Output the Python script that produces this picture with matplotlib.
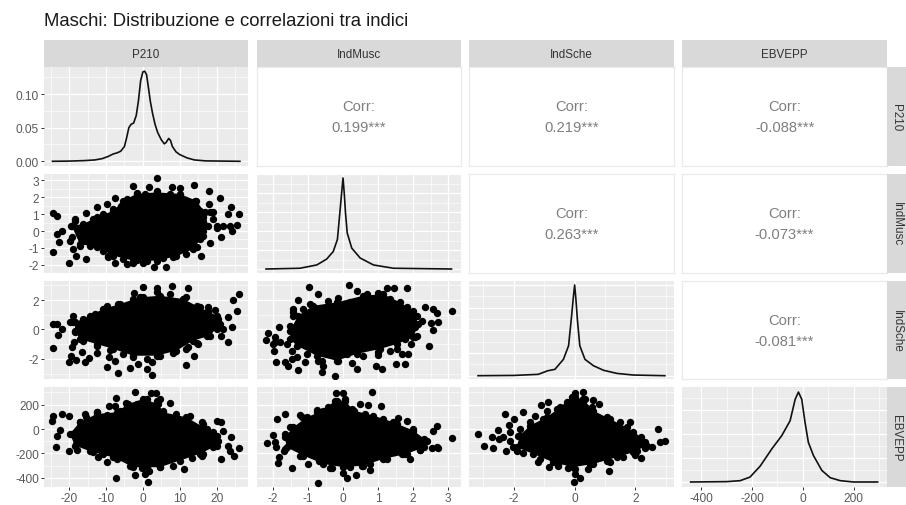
import matplotlib
matplotlib.use("Agg")
import matplotlib.pyplot as plt
from matplotlib.patches import Rectangle

plt.rcParams['font.family'] = ['Liberation Sans', 'DejaVu Sans']

W, H = 906, 506
TITLE = "Maschi: Distribuzione e correlazioni tra indici"
NAMES = ["P210", "IndMusc", "IndSche", "EBVEPP"]

# correlations (upper triangle)
corr_12 = "0.199***"
corr_13 = "0.219***"
corr_14 = "-0.088***"
corr_23 = "0.263***"
corr_24 = "-0.073***"
corr_34 = "-0.081***"

# densities
d1_x = [-24.5,-20,-16,-13,-11,-9.5,-8,-7,-6,-5,-4.4,-3.8,-3.2,-2.5,-1.8,-1.2,-0.6,0,0.5,1,1.5,2,2.6,3.3,4,5,5.8,6.3,7,7.5,8,9,10,12,14,17,26.3]
d1_y = [0,.0003,.001,.002,.004,.007,.011,.0125,.015,.022,.035,.05,.055,.057,.068,.09,.12,.133,.134,.129,.11,.09,.072,.055,.043,.032,.026,.028,.034,.031,.022,.014,.010,.005,.002,.0006,0]
d2_x = [-2.2,-1.23,-.75,-.47,-.28,-.16,-.09,-.04,0,.035,.07,.12,.25,.49,.87,1.44,3.1]
d2_y = [0,.02,.107,.26,.46,.78,1.49,2.0,2.4,2.0,1.49,.95,.55,.29,.107,.02,0]
d3_x = [-3.18,-2,-1.2,-.88,-.65,-.37,-.2,-.1,-.04,0,.04,.09,.17,.34,.62,.95,1.4,1.93,2.97]
d3_y = [0,.012,.06,.22,.28,.72,1.32,2.64,3.5,4,3.4,2.48,1.32,.72,.44,.24,.1,.03,0]
d4_x = [-442,-300,-247,-208,-168,-122,-83,-50,-30,-17,-4,9,22,42,75,108,148,200,295]
d4_y = [0,.00003,.00011,.00041,.00132,.00276,.00386,.0051,.00689,.0075,.00689,.00496,.00331,.00221,.00097,.00036,.00011,0,0]

# scatter: edge of the dense cloud, the lumps on that edge, and the separate points
c21_x = [-19.3,-16.2,-12.5,-8,-5.3,-1.7,3.7,10,14.5,16.8,17.7,16.4,13.6,9.1,3.7,-2.6,-8,-12.5,-17.1]
c21_y = [.31,.41,.81,1.2,1.8,2.2,2.29,2.2,1.8,1.1,.31,-.28,-1.07,-1.5,-1.76,-1.76,-1.46,-.97,-.77]
e21_x = [-4.4,-1.7,.55,3.7,7.3,10.5,14.1,15.5,18.2,16.4,19.1,20,16.4,15.5,14.6,11.8,8.2,5.5,1,-1.7,-5.3,-9.4,-10.7,-14.4,-17.1,-19.3,-19.6,-18.4,-16.2,-13.5,-10.7,-8,-5.8]
e21_y = [1.9,2.25,2.2,2.39,2.2,1.9,1.8,1.2,1.1,.81,.71,.31,.02,-.47,-.97,-1.36,-1.56,-1.62,-1.76,-1.7,-1.66,-1.5,-1.17,-.87,-.87,-.38,.31,.61,.31,.71,1.0,1.3,1.5]
p21_x = [3.7,-2.6,1.6,7.8,10,13.8,17.9,21,-7.6,-9.8,-12.5,-15.3,-24.3,-23.4,24,26.1,23.1,-18.4,-22,-23.4,-22.7,-24.3,-19.8,-18.9,-18.2,-15.4,-20,-7.6,-4.4,-2.6,.1,3,6.4,15.7,18.2,21.3,24.2,25.6,19.1,18,-9.4,20,21.8,23.6]
p21_y = [3.12,2.69,2.59,2.59,2.53,2.73,2.35,1.96,1.94,1.6,1.4,1.07,1.07,.91,1.4,1,1,.71,.02,-.18,-.67,-1.27,-.57,-1.07,-1.46,-1.66,-1.92,-1.9,-1.96,-1.92,-1.92,-2.16,-2.12,-1.46,-.71,-.34,-.02,.35,1.1,1.6,-1.56,.2,.27,.3]

c31_x = [-18.4,-14.4,-10.7,-6.2,-.8,4.6,10.9,15.4,20,20.9,18.2,13.6,9.1,3.7,-2.6,-8,-12.5,-17.1,-18.4]
c31_y = [.48,.94,1.39,1.73,2.18,2.29,2.07,1.5,.94,.37,-.42,-.76,-1.44,-1.78,-1.78,-1.32,-.99,-.65,-.08]
e31_x = [-18.9,-16.2,-13,-9.8,-6.7,-2.6,.1,3.7,7.3,11.8,14.6,17.7,20.4,20,17.3,15,11.8,8.2,4.6,1,-2.6,-5.3,-8.9,-12.5,-16.2,-18.4]
e31_y = [.48,.71,1.05,1.39,1.73,2.07,2.18,2.52,2.4,2.18,1.61,1.27,.71,.03,-.42,-.99,-1.32,-1.62,-1.78,-2,-1.89,-1.66,-1.39,-1.1,-.76,-.2]
p31_x = [.1,3.9,7.8,12.1,-2.3,26,24.5,25.4,-24.3,-23.4,-22,-22.9,-19.8,-18.9,-24.3,-18.7,-19.3,-19.6,-20,-18.2,-15.7,-14.5,-16.6,-12.4,-9.6,-9.2,-7.6,-6.7,-3.5,-1.3,1,2.5,2.6,11.6,13.8,12.3,14.6,23.1,21.3,24.2,21.8,23.1,19.5,17.7,-9.8]
p31_y = [2.86,2.79,2.97,2.81,2.45,2.4,2.02,1.23,.37,.37,.03,-.38,.48,.94,-1.28,-.87,-1.21,-1.78,-2.23,-2.07,-2.23,-1.93,-1.55,-1.62,-2.52,-1.89,-2.12,-2.93,-2.64,-2.34,-2.68,-2.23,-3.09,-2.43,-1.82,-1.21,-.92,-.83,-.42,.14,.03,.82,1.34,1.5,1.61]

c41_x = [-19.8,-17.1,-12.5,-7.1,-4,.1,4.2,5.5,11.8,17.3,20,20,15.4,10,4.6,-2.6,-8,-13.5,-18.4]
c41_y = [-40,55,123,137,205,246,205,137,96,0,-54,-136,-204,-259,-313,-313,-232,-191,-136]
e41_x = [-19.3,-17.1,-15.3,-12.5,-9.8,-6.2,-4.4,-1.7,1,3.7,5.5,9.1,12.7,16.4,19.1,20.4,19.1,16.4,13.2,8.2,4.6,1,-3.5,-7.1,-10.7,-14.4,-18]
e41_y = [-40,55,96,137,115,151,192,205,246,233,151,123,110,41,-27,-95,-150,-204,-240,-305,-313,-313,-305,-245,-204,-177,-122]
p41_x = [-2.2,2.1,3.5,-7.3,-4.6,7.3,-9.1,-7.6,4.6,-24.3,-22,-20,-24.5,-22.5,-23.2,-23.6,-20,-17.8,-12.1,-9.8,-7.3,-2,-.1,1.7,.5,1.3,11.1,15.9,21.1,20,21.3,21.8,24,23.1,23.6,24.8,26.1,15.9,-15.7,-12.5]
p41_y = [301,295,295,254,213,213,192,192,246,110,126,104,69,-5,-54,-147,-177,-171,-226,-272,-404,-376,-322,-341,-368,-436,-327,-223,-245,69,61,-19,-62,-136,-177,-218,-158,55,123,137]

c32_x = [-1.51,-1.28,-.85,-.18,.58,1.15,1.63,2.01,2.15,2.01,1.53,1.06,.39,-.18,-.75,-1.32,-1.51]
c32_y = [-.08,.94,1.61,1.84,2.29,2.4,1.84,1.27,.37,-.53,-.99,-1.32,-1.66,-2.12,-1.78,-1.1,-.65]
e32_x = [-1.51,-1.42,-1.13,-.94,-.42,.2,.68,1,1.34,1.82,2.1,2.06,2.1,1.77,1.53,1.01,.58,.1,-.13,-.61,-1.04,-1.47,-1.61,-1.94]
e32_y = [.26,.94,1.39,1.73,1.95,1.84,2.4,2.45,2.07,1.5,.94,.14,-.42,-.65,-1.32,-1.55,-1.78,-1.66,-2.16,-2.16,-1.66,-1.44,-.99,-.87]
p32_x = [-.96,.17,.41,1.25,1.47,1.84,-.71,-1.3,-.13,-1.42,-1.42,2.34,2.58,2.68,3.12,2.71,2.51,2.56,2.25,-1.83,-2.13,-2.21,-1.97,-1.91,-1.66,-1.58,-1.28,-.61,-.23,.25,.39,.94,1.1,1.5,1.77,1.87,1.68,2.47,2.06,1.94,1.01,1.34,-1.1,-.71,-.56,-1.32,-1.47,-1.99,-1.8,-1.94]
p32_y = [2.86,3.01,2.63,2.81,2.81,2.79,2.4,2,2.13,1.39,1.16,1.5,1.39,1.12,1.27,.48,.44,-.01,.6,.14,-.24,-.69,-1.48,-2.23,-2.23,-2.5,-2.73,-2.91,-3.13,-2.3,-2.68,-2.5,-2.68,-2.34,-2.34,-1.66,-1.66,-1.14,-.53,-.99,-1.73,-1.44,-2.23,-2.12,-2.45,-1.89,-2,-.99,-.87,-.53]

c42_x = [-1.66,-1.42,-1.04,-.56,-.23,.06,.3,.87,1.44,2.01,2.39,2.3,1.82,1.15,.58,.01,-.56,-1.13,-1.61]
c42_y = [-68,14,96,151,233,233,151,110,55,-13,-95,-150,-204,-245,-300,-313,-286,-218,-150]
e42_x = [-1.66,-1.51,-1.18,-.75,-.42,-.18,.06,.25,.63,1.15,1.53,2.01,2.3,2.68,2.2,1.77,1.25,.77,.2,-.32,-.7,-1.23,-1.66,-1.94]
e42_y = [-40,14,96,137,178,233,246,164,123,82,41,0,-81,-150,-171,-204,-245,-286,-313,-322,-259,-218,-163,-109]
p42_x = [-.2,.01,.84,1.08,.49,.72,-1.66,-1.9,-1.23,-.73,1.58,1.82,2.68,2.58,3.1,2.72,2.53,2.2,1.91,-2.01,-2.18,-1.91,-1.7,-1.82,-1.85,-1.47,-.99,-.37,.01,.12,.37,.53,.77,-.72,1.68]
p42_y = [295,295,301,186,205,200,123,82,118,156,88,69,28,-19,-73,-155,-155,-171,-245,-49,-114,-150,-182,-226,-281,-316,-286,-322,-363,-401,-374,-305,-335,-439,-204]

c43_x = [-1.8,-1.47,-.92,-.48,-.1,.28,.61,1.16,1.71,2.2,2.37,1.93,1.38,.61,-.05,-.7,-1.36,-1.91]
c43_y = [-54,28,96,178,260,246,151,82,14,-68,-136,-191,-232,-286,-313,-273,-204,-150]
e43_x = [-1.85,-1.47,-1.03,-.59,-.26,.01,.34,.56,1.05,1.49,1.93,2.31,2.04,1.6,1.05,.5,.01,-.54,-1.14,-1.69,-2.02,-2.35,-2.13,-1.8]
e43_y = [-54,55,82,164,219,260,246,178,96,55,-27,-109,-177,-232,-259,-286,-327,-294,-245,-196,-150,-68,-27,0]
p43_x = [.01,.26,.59,.8,-.87,-1.11,-2.29,-1.69,-1.99,-1.3,-.9,1.82,-3.17,-2.53,-2.16,-2.73,-2.48,-2.13,-2.98,-2.68,-2.27,-1.91,-1.22,-.85,-.54,-.21,.45,1.13,.01,.17,-.01,2.18,1.98,2.73,2.81,2.97,2.53,2.31,1.16]
p43_y = [295,301,241,205,219,197,123,137,82,110,151,55,-40,-5,36,-68,-81,-95,-141,-155,-177,-177,-267,-313,-300,-322,-327,-341,-368,-401,-436,-240,-212,-2,-103,-98,-150,-158,-267]

# tick values and limits
col_ticks = [[-20,-10,0,10,20], [-2,-1,0,1,2,3], [-2,0,2], [-400,-200,0,200]]
col_minor = [[-25,-15,-5,5,15,25], [-1.5,-.5,.5,1.5,2.5,-2.5], [-3,-1,1,3], [-300,-100,100,300]]
col_lims = [(-26.8,28.5), (-2.457,3.37), (-3.477,3.27), (-476,332)]
row_ticks = [[0,.05,.10], [-2,-1,0,1,2,3], [-2,0,2], [-400,-200,0,200]]
row_labels = [["0.00","0.05","0.10"], ["-2","-1","0","1","2","3"], ["-2","0","2"], ["-400","-200","0","200"]]
row_minor = [[.025,.075,.125], [-1.5,-.5,.5,1.5,2.5], [-3,-1,1,3], [-300,-100,100,300]]
row_lims = [(-.007,.1403), (-2.49,3.38), (-3.36,3.29), (-475,344)]
diag_grid = [None,
    ([0,.5,1,1.5,2,2.5],[.25,.75,1.25,1.75,2.25]),
    ([0,1,2,3,4],[.5,1.5,2.5,3.5]),
    ([0,.002,.004,.006],[.001,.003,.005,.007])]
diag_lims = [(-.007,.1403), (-.105,2.505), (-.145,4.176), (-.000417,.00792)]

col_px = [(44,248),(257,461),(469,674),(682,887)]
row_px = [(68,167),(175,274),(282,380),(388,488)]
strip_top = (41,68)
strip_right = (887,906)
POINT = 28

fig = plt.figure(figsize=(W/100, H/100), dpi=100)

def axes_px(x0, x1, y0, y1):
    return fig.add_axes([x0/W, 1-y1/H, (x1-x0)/W, (y1-y0)/H])

def strip(x0, x1, y0, y1, text, rot):
    fig.add_artist(Rectangle((x0/W, 1-y1/H), (x1-x0)/W, (y1-y0)/H,
                             transform=fig.transFigure, fc="#D9D9D9", ec="none"))
    fig.text((x0+x1)/2/W, 1-(y0+y1)/2/H, text, rotation=rot, ha="center", va="center",
             fontsize=8.4, color="#333333")

def style(ax, r, c, corr=False):
    ax.set_xlim(col_lims[c])
    ax.set_ylim(diag_lims[r] if r == c else row_lims[r])
    for s in ax.spines.values():
        s.set_visible(False)
    ax.set_axisbelow(True)
    ax.tick_params(which="both", length=0)
    ax.set_xticks([])
    ax.set_yticks([])
    if corr:
        ax.set_facecolor("white")
        for s in ax.spines.values():
            s.set_visible(True)
            s.set_color("#EBEBEB")
            s.set_linewidth(1.0)
        return
    ax.set_facecolor("#EBEBEB")
    yt, ym = (diag_grid[r] if (r == c and diag_grid[r]) else (row_ticks[r], row_minor[r]))
    ax.set_xticks(col_ticks[c])
    ax.set_xticks([v for v in col_minor[c] if col_lims[c][0] < v < col_lims[c][1]], minor=True)
    ax.set_yticks(yt)
    ax.set_yticks([v for v in ym if ax.get_ylim()[0] < v < ax.get_ylim()[1]], minor=True)
    ax.grid(True, which="major", color="white", lw=0.9)
    ax.grid(True, which="minor", color="white", lw=0.45)
    ax.set_xticklabels([])
    ax.set_yticklabels([])

densities = [(d1_x,d1_y),(d2_x,d2_y),(d3_x,d3_y),(d4_x,d4_y)]
clouds = {(1,0):(c21_x,c21_y,e21_x,e21_y,p21_x,p21_y), (2,0):(c31_x,c31_y,e31_x,e31_y,p31_x,p31_y),
          (3,0):(c41_x,c41_y,e41_x,e41_y,p41_x,p41_y), (2,1):(c32_x,c32_y,e32_x,e32_y,p32_x,p32_y),
          (3,1):(c42_x,c42_y,e42_x,e42_y,p42_x,p42_y), (3,2):(c43_x,c43_y,e43_x,e43_y,p43_x,p43_y)}
corrs = {(0,1):corr_12,(0,2):corr_13,(0,3):corr_14,(1,2):corr_23,(1,3):corr_24,(2,3):corr_34}

for r in range(4):
    for c in range(4):
        ax = axes_px(col_px[c][0], col_px[c][1], row_px[r][0], row_px[r][1])
        if c > r:
            style(ax, r, c, corr=True)
            ax.text(.5, .605, "Corr:", transform=ax.transAxes, ha="center", va="center", fontsize=10.6, color="#7F7F7F")
            ax.text(.5, .39, corrs[(r,c)], transform=ax.transAxes, ha="center", va="center", fontsize=10.6, color="#7F7F7F")
        elif c == r:
            style(ax, r, c)
            ax.plot(densities[c][0], densities[c][1], color="#111111", lw=1.2)
        else:
            style(ax, r, c)
            cx, cy, ex, ey, px, py = clouds[(r,c)]
            ax.fill(cx, cy, color="black", lw=0)
            ax.scatter(cx, cy, s=POINT, color="black", lw=0)
            ax.scatter(ex, ey, s=POINT, color="black", lw=0)
            ax.scatter(px, py, s=POINT, color="black", lw=0)
        if c == 0:
            ax.set_yticks(row_ticks[r])
            ax.set_yticklabels(row_labels[r])
            ax.tick_params(axis="y", which="major", length=2.2, width=0.7, color="#333333",
                           labelsize=8.6, labelcolor="#5A5A5A", pad=1.5)
            if r == 0:
                ax.set_yticks(row_minor[r], minor=True)
        if r == 3:
            ax.set_xticklabels([str(v) for v in col_ticks[c]])
            ax.tick_params(axis="x", which="major", length=2.2, width=0.7, color="#333333",
                           labelsize=8.6, labelcolor="#5A5A5A", pad=1.5)
        if r == 0 and c == 0:
            ax.set_ylim(row_lims[0])

for c, name in enumerate(NAMES):
    strip(col_px[c][0], col_px[c][1], strip_top[0], strip_top[1], name, 0)
for r, name in enumerate(NAMES):
    strip(strip_right[0], strip_right[1], row_px[r][0], row_px[r][1], name, -90)

fig.text(44/W, 1-21.5/H, TITLE, ha="left", va="center", fontsize=13.3, color="#1A1A1A")
fig.savefig("out.png", dpi=100, facecolor="white")
